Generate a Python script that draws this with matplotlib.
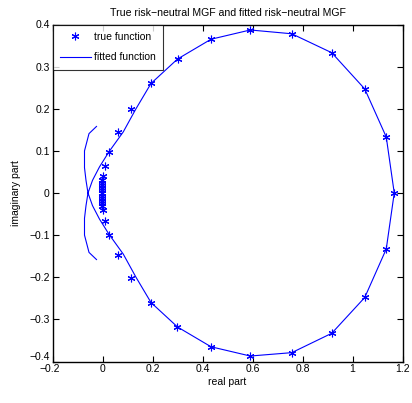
import matplotlib
matplotlib.use("Agg")
import matplotlib.pyplot as plt
import matplotlib.transforms as mtransforms
import numpy as np

plt.rcParams['font.family'] = ['Liberation Sans', 'DejaVu Sans']

# True risk-neutral MGF evaluated along the contour
true_re = [1.167, 1.135, 1.049, 0.917, 0.757, 0.591, 0.434, 0.300, 0.194, 0.114,
           0.061, 0.026, 0.009, 0.002,
           -0.002, -0.002, -0.002, -0.002, -0.002, -0.002, -0.002, -0.002, -0.002,
           -0.002, -0.002,
           0.000, 0.008, 0.026, 0.061, 0.114, 0.195, 0.299, 0.434, 0.591, 0.757,
           0.917, 1.049, 1.135]
true_im = [0.000, 0.133, 0.247, 0.333, 0.378, 0.387, 0.365, 0.318, 0.260, 0.200,
           0.144, 0.098, 0.065, 0.040,
           0.030, 0.024, 0.018, 0.012, 0.006, 0.000, -0.006, -0.012, -0.018,
           -0.024, -0.030,
           -0.041, -0.066, -0.099, -0.146, -0.201, -0.260, -0.318, -0.365, -0.387,
           -0.379, -0.333, -0.248, -0.133]

# Fitted risk-neutral MGF along the same contour
fit_re = [-0.024, -0.054, -0.072, -0.072, -0.066, -0.058,
          -0.040, -0.012, 0.026, 0.083, 0.133, 0.194, 0.300, 0.434, 0.591, 0.757,
          0.917, 1.049, 1.135, 1.167, 1.135, 1.049, 0.917, 0.757, 0.591, 0.434,
          0.300, 0.194, 0.133, 0.083, 0.026, -0.012, -0.040, -0.058,
          -0.066, -0.072, -0.072, -0.054, -0.024]
fit_im = [0.158, 0.141, 0.100, 0.060, 0.030, 0.000,
          -0.030, -0.062, -0.098, -0.145, -0.199, -0.260, -0.318, -0.365, -0.387,
          -0.379, -0.333, -0.248, -0.133, 0.000, 0.133, 0.247, 0.333, 0.378, 0.387,
          0.365, 0.318, 0.260, 0.199, 0.145, 0.098, 0.062, 0.030, 0.000,
          -0.030, -0.060, -0.100, -0.141, -0.158]

x_ticks = [-0.2, 0, 0.2, 0.4, 0.6, 0.8, 1, 1.2]
y_ticks = [-0.4, -0.3, -0.2, -0.1, 0, 0.1, 0.2, 0.3, 0.4]
x_ticklabels = ['\u22120.2', '0', '0.2', '0.4', '0.6', '0.8', '1', '1.2']
y_ticklabels = ['\u22120.4', '\u22120.3', '\u22120.2', '\u22120.1', '0',
                '0.1', '0.2', '0.3', '0.4']

fig = plt.figure(figsize=(4.12, 4.03), dpi=100)
ax = fig.add_axes([52.5 / 412, 1 - 361.5 / 403, 350 / 412, 337 / 403])

blue = (0, 0, 1)
ax.plot(true_re, true_im, linestyle='none', marker=(6, 2, 0), markersize=5.5,
        markeredgewidth=0.8, color=blue, label='true function')
ax.plot(fit_re, fit_im, '-', color=blue, linewidth=0.8, label='fitted function')

ax.set_xlim(-0.2, 1.2)
ax.set_ylim(-0.4, 0.4)
ax.set_xticks(x_ticks)
ax.set_yticks(y_ticks)
ax.set_xticklabels(x_ticklabels)
ax.set_yticklabels(y_ticklabels)
ax.tick_params(direction='in', length=4, width=0.8, labelsize=7.5,
               top=True, right=True, pad=2)
for s in ax.spines.values():
    s.set_linewidth(1.0)

# keep the corner labels apart
lab_y = ax.get_yticklabels()[0]
lab_y.set_transform(lab_y.get_transform() +
                    mtransforms.ScaledTranslation(0, 4 / 72, fig.dpi_scale_trans))
lab_x = ax.get_xticklabels()[0]
lab_x.set_transform(lab_x.get_transform() +
                    mtransforms.ScaledTranslation(-2 / 72, 0, fig.dpi_scale_trans))

ax.set_title('True risk\u2212neutral MGF and fitted risk\u2212neutral MGF',
             fontsize=7.6, pad=6)
ax.set_xlabel('real part', fontsize=7.5, labelpad=2)
ax.set_ylabel('imaginary part', fontsize=7.5, labelpad=6)

leg = ax.legend(loc='upper left', fontsize=7.5, frameon=True, fancybox=False,
                borderaxespad=0.0, handlelength=3.0, handletextpad=0.3,
                borderpad=0.7, labelspacing=1.0)
leg.get_frame().set_edgecolor('black')
leg.get_frame().set_linewidth(0.8)

fig.savefig('out.png', dpi=100)
